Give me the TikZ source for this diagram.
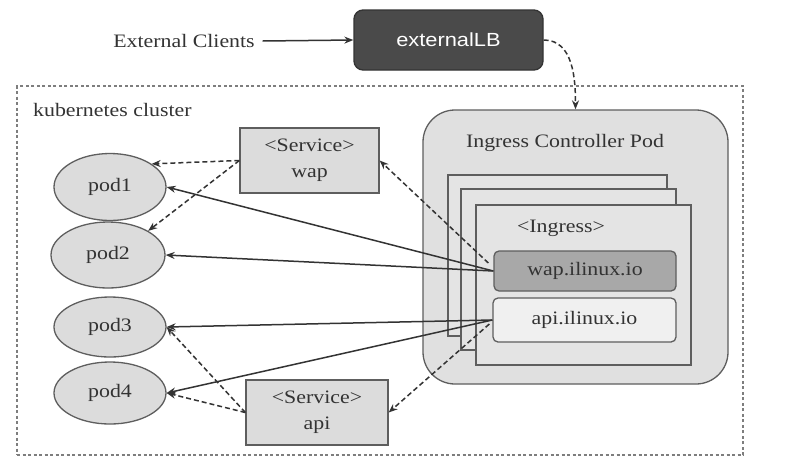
\documentclass[tikz,border=0pt]{standalone}
\usepackage{fontspec}
\setmainfont{Liberation Serif}[FakeStretch=1.15]
\setsansfont{Liberation Sans}[FakeStretch=1.15]
\usetikzlibrary{arrows.meta,shapes.geometric}
\definecolor{ink}{HTML}{333333}
\definecolor{edge}{HTML}{5E5E5E}
\definecolor{boxfill}{HTML}{DCDCDC}
\definecolor{podfill}{HTML}{E0E0E0}
\definecolor{stackfill}{HTML}{E4E4E4}
\definecolor{wapfill}{HTML}{A8A8A8}
\definecolor{apifill}{HTML}{F0F0F0}
\definecolor{lbfill}{HTML}{4A4A4A}
\tikzset{
  txt/.style={font=\fontsize{19}{22}\selectfont, text=ink},
  box/.style={draw=edge, line width=1.3pt, fill=boxfill, inner sep=0pt, txt, align=center},
  podnode/.style={ellipse, draw=edge, line width=1.3pt, fill=boxfill, inner sep=0pt, txt},
  stackbox/.style={draw=edge, line width=1.3pt, fill=stackfill, inner sep=0pt},
  hostbox/.style={draw=edge, line width=1.3pt, rounded corners=5pt, inner sep=0pt, txt},
  tip/.style={-{Stealth[length=9pt,width=7pt]}},
  solidarrow/.style={tip, draw=ink, line width=1.5pt},
  dasharrow/.style={tip, draw=ink, line width=1.5pt, dash pattern=on 5pt off 3pt},
}
\begin{document}
\begin{tikzpicture}[x=1pt,y=-1pt]
\useasboundingbox (0,0) rectangle (789,469);
\fill[white] (0,0) rectangle (789,469);

% cluster
\node[draw=edge!80, line width=1.1pt, dash pattern=on 3pt off 2.5pt, minimum width=726pt, minimum height=369pt, inner sep=0pt] (cluster) at (380,270.5) {};
\node[txt, anchor=west, inner sep=0pt] (clusterlabel) at (33,110) {kubernetes cluster};

% external
\node[txt, inner sep=0pt, outer sep=8pt] (clients) at (184,41) {External Clients};
\node[draw=ink, line width=1.3pt, fill=lbfill, rounded corners=9pt, minimum width=189pt, minimum height=60pt, inner sep=0pt, text=white, font=\sffamily\fontsize{19}{22}\selectfont] (lb) at (448.5,40) {externalLB};

% ingress controller pod
\node[draw=edge, line width=1.3pt, fill=podfill, rounded corners=32pt, minimum width=305pt, minimum height=274pt, inner sep=0pt] (icp) at (575.5,247) {};
\node[txt, inner sep=0pt] (icptitle) at (565,143) {Ingress Controller Pod};
\node[stackbox, minimum width=219pt, minimum height=161pt] (stackA) at (557.5,255.5) {};
\node[stackbox, minimum width=215pt, minimum height=161pt] (stackB) at (568.5,269.5) {};
\node[stackbox, minimum width=215pt, minimum height=160pt] (stackC) at (583.5,285) {};
\node[txt, inner sep=0pt] (ingresslabel) at (561,228) {<Ingress>};
\node[hostbox, fill=wapfill, minimum width=182pt, minimum height=40pt] (waph) at (585,271) {wap.ilinux.io};
\node[hostbox, fill=apifill, minimum width=183pt, minimum height=44pt] (apih) at (584.5,320) {api.ilinux.io};

% services
\node[box, minimum width=139pt, minimum height=65pt] (svcwap) at (309.5,160.5) {<Service>\\[4pt]wap};
\node[box, minimum width=142pt, minimum height=65pt] (svcapi) at (317,412.5) {<Service>\\[4pt]api};

% pods
\node[podnode, minimum width=112pt, minimum height=67pt] (pod1) at (110,187) {pod1};
\node[podnode, minimum width=114pt, minimum height=66pt] (pod2) at (108,255) {pod2};
\node[podnode, minimum width=112pt, minimum height=60pt] (pod3) at (110,327) {pod3};
\node[podnode, minimum width=112pt, minimum height=62pt] (pod4) at (110,393) {pod4};

% connectors
\draw[solidarrow] (clients.east) -- (lb.west);
\draw[dasharrow] (lb.east) to[out=0, in=90] (icp.north);

\draw[dasharrow] ([shift={(-5,-8)}]waph.west) -- (svcwap.east);
\draw[dasharrow] (svcwap.west) -- (pod1.29);
\draw[dasharrow] (svcwap.west) -- (pod2.31);
\draw[solidarrow] (waph.west) -- (pod1.east);
\draw[solidarrow] (waph.west) -- (pod2.east);
\draw[solidarrow] (apih.west) -- (pod3.east);
\draw[solidarrow] (apih.west) -- (pod4.east);
\draw[dasharrow] ([shift={(-3,4)}]apih.west) -- (svcapi.east);
\draw[dasharrow] (svcapi.west) -- (pod3.east);
\draw[dasharrow] (svcapi.west) -- (pod4.east);
\end{tikzpicture}
\end{document}
